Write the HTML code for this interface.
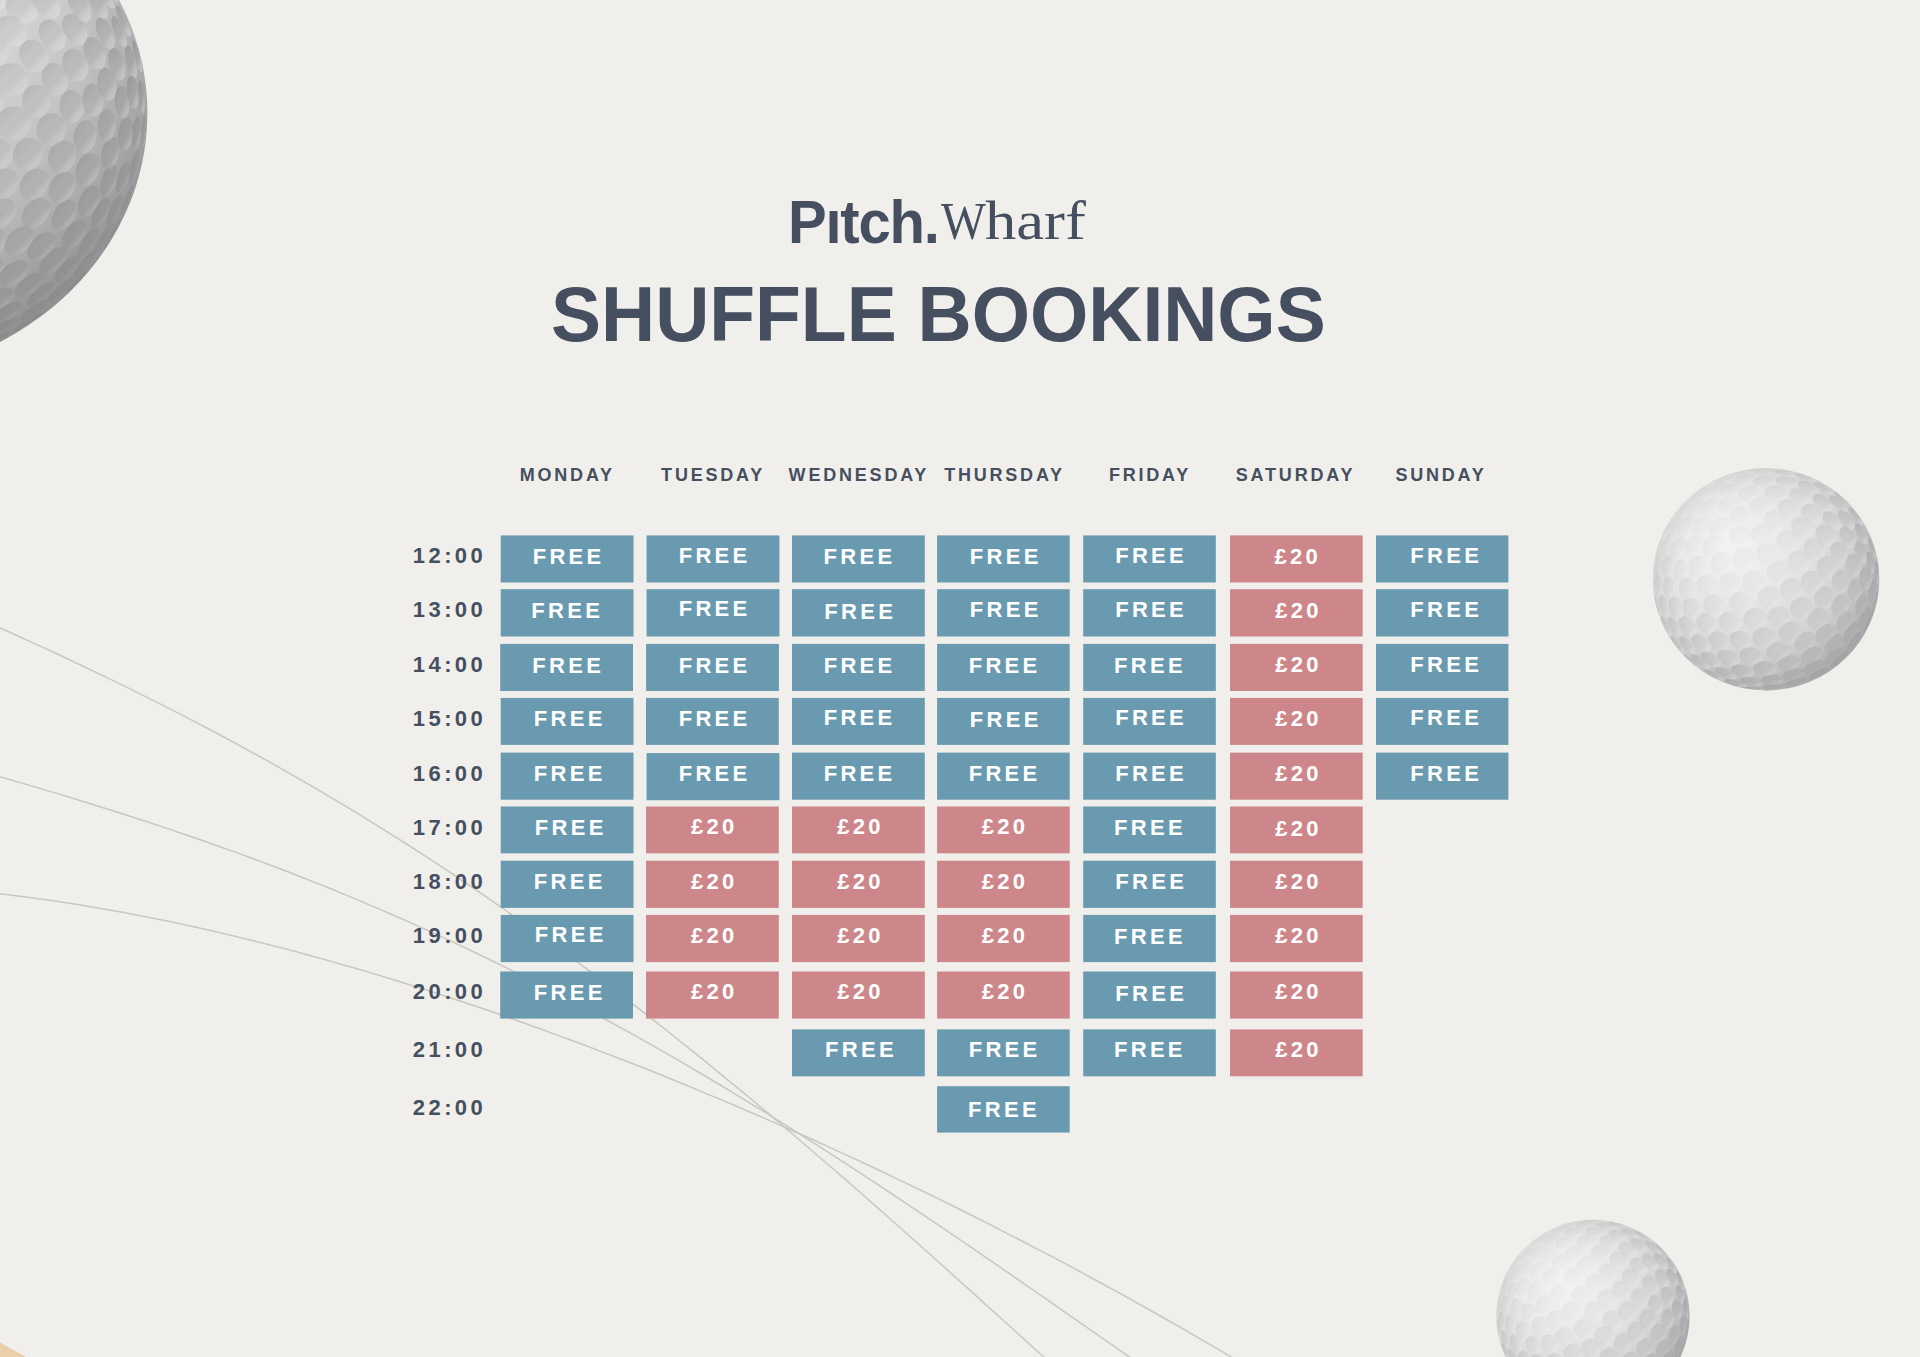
<!DOCTYPE html>
<html lang="en"><head><meta charset="utf-8"><title>Pitch. Wharf – Shuffle Bookings</title>
<style>
html,body{margin:0;padding:0}
body{width:1920px;height:1357px;position:relative;overflow:hidden;background:#f0efeb;font-family:"Liberation Sans",sans-serif;color:#454f60}
.abs{position:absolute}
.bx{position:absolute}
.b{background:#6a9ab0}.p{background:#cd878a}
.t{position:absolute;white-space:nowrap;line-height:1;font-weight:700;transform:translate(-50%,-50%)}
.c{color:#fff;font-size:22px;letter-spacing:3.3px}
.tm{font-size:22px;letter-spacing:3.4px}
.dy{font-size:18px;letter-spacing:2.8px}
#art{position:absolute;left:0;top:0}
#title{position:absolute;left:550.9px;top:274.5px;font-size:78.5px;font-weight:700;line-height:1;white-space:nowrap;letter-spacing:0px;transform-origin:0 0;transform:scaleX(0.955)}
#lg1{position:absolute;left:787.7px;top:192px;font-size:61px;font-weight:700;line-height:1;white-space:nowrap;letter-spacing:-1.3px;transform-origin:0 0;transform:scaleX(0.951)}
#lg2{position:absolute;left:0;top:0;font-family:"Liberation Serif",serif;line-height:1;white-space:nowrap}
#lg2 span{position:absolute;transform-origin:0 0}
#lgw{left:941px;top:196px;font-size:52px;transform:scaleX(0.914)}
#lgh{left:985.3px;top:193.7px;font-size:54px;transform:scaleX(1.16)}
</style></head><body>
<svg id="art" width="1920" height="1357" viewBox="0 0 1920 1357">
<defs>
<radialGradient id="bg" cx="-30" cy="-32" r="150" gradientUnits="userSpaceOnUse">
<stop offset="0" stop-color="#f3f3f1"/><stop offset=".3" stop-color="#eaeae9"/><stop offset=".5" stop-color="#dfdfde"/><stop offset=".68" stop-color="#d1d2d2"/><stop offset=".8" stop-color="#c1c3c3"/><stop offset=".9" stop-color="#b0b2b3"/><stop offset="1" stop-color="#a0a2a4"/>
</radialGradient>
<radialGradient id="rim" cx="0" cy="0" r="100" gradientUnits="userSpaceOnUse">
<stop offset=".8" stop-color="#9a9c9e" stop-opacity="0"/><stop offset="1" stop-color="#9a9c9e" stop-opacity=".12"/>
</radialGradient>
<linearGradient id="dg" x1="0.1" y1="0.1" x2="0.9" y2="0.9">
<stop offset="0" stop-color="#000" stop-opacity=".1"/><stop offset=".5" stop-color="#000" stop-opacity=".04"/><stop offset=".8" stop-color="#fff" stop-opacity=".1"/><stop offset="1" stop-color="#fff" stop-opacity=".3"/>
</linearGradient>
<linearGradient id="dg2" x1="0.1" y1="0.1" x2="0.9" y2="0.9">
<stop offset="0" stop-color="#000" stop-opacity=".13"/><stop offset=".45" stop-color="#000" stop-opacity=".05"/><stop offset=".75" stop-color="#fff" stop-opacity=".15"/><stop offset="1" stop-color="#fff" stop-opacity=".4"/>
</linearGradient>
<linearGradient id="sh" x1="45" y1="-45" x2="88" y2="80" gradientUnits="userSpaceOnUse">
<stop offset="0" stop-color="#000" stop-opacity=".02"/><stop offset="1" stop-color="#000" stop-opacity=".15"/>
</linearGradient>
</defs>
<path d="M0 1342.4 L26 1357 L0 1357Z" fill="#e9cfaa"/>
<g fill="none" stroke="#c7c7c4" stroke-width="1.5">
<path d="M-4 626.0 12 633.3 28 640.6 44 647.9 60 655.3 76 662.9 92 670.5 108 678.1 124 685.9 140 693.8 156 701.8 172 709.9 188 718.2 204 726.5 220 735.0 236 743.6 252 752.3 268 761.2 284 770.2 300 779.3 316 788.6 332 798.1 348 807.7 364 817.4 380 827.3 396 837.3 412 847.5 428 857.9 444 868.4 460 879.0 476 889.9 492 900.8 508 912.0 524 923.2 540 934.7 556 946.3 572 958.0 588 969.9 604 981.9 620 994.1 636 1006.4 652 1018.9 668 1031.5 684 1044.3 700 1057.1 716 1070.2 732 1083.3 748 1096.5 764 1109.9 780 1123.4 796 1137.0 812 1150.7 828 1164.5 844 1178.4 860 1192.3 876 1206.4 892 1220.5 908 1234.7 924 1249.0 940 1263.3 956 1277.7 972 1292.1 988 1306.6 1004 1321.0 1020 1335.5 1036 1350.0 1052 1364.5 1068 1379.0"/>
<path d="M-4 775.6 12 780.2 28 784.9 44 789.6 60 794.4 76 799.3 92 804.2 108 809.2 124 814.3 140 819.5 156 824.7 172 830.1 188 835.5 204 841.0 220 846.7 236 852.4 252 858.3 268 864.3 284 870.3 300 876.5 316 882.9 332 889.3 348 895.9 364 902.6 380 909.4 396 916.3 412 923.4 428 930.6 444 937.9 460 945.4 476 953.0 492 960.7 508 968.6 524 976.6 540 984.7 556 993.0 572 1001.4 588 1009.9 604 1018.5 620 1027.3 636 1036.2 652 1045.2 668 1054.4 684 1063.6 700 1073.0 716 1082.5 732 1092.1 748 1101.9 764 1111.7 780 1121.7 796 1131.7 812 1141.9 828 1152.1 844 1162.4 860 1172.9 876 1183.4 892 1194.0 908 1204.6 924 1215.3 940 1226.1 956 1237.0 972 1247.9 988 1258.9 1004 1269.9 1020 1280.9 1036 1292.0 1052 1303.1 1068 1314.3 1084 1325.4 1100 1336.5 1116 1347.7 1132 1358.8 1148 1370.0 1164 1381.1"/>
<path d="M-4 893.3 12 895.2 28 897.3 44 899.5 60 901.8 76 904.3 92 906.9 108 909.7 124 912.6 140 915.7 156 918.8 172 922.1 188 925.5 204 929.1 220 932.7 236 936.5 252 940.4 268 944.4 284 948.6 300 952.8 316 957.2 332 961.6 348 966.2 364 970.8 380 975.6 396 980.5 412 985.5 428 990.5 444 995.7 460 1001.0 476 1006.3 492 1011.8 508 1017.4 524 1023.0 540 1028.7 556 1034.6 572 1040.5 588 1046.5 604 1052.6 620 1058.7 636 1065.0 652 1071.3 668 1077.8 684 1084.3 700 1090.9 716 1097.6 732 1104.3 748 1111.2 764 1118.1 780 1125.1 796 1132.2 812 1139.3 828 1146.6 844 1153.9 860 1161.3 876 1168.8 892 1176.4 908 1184.1 924 1191.8 940 1199.6 956 1207.5 972 1215.5 988 1223.6 1004 1231.8 1020 1240.0 1036 1248.3 1052 1256.7 1068 1265.2 1084 1273.8 1100 1282.5 1116 1291.2 1132 1300.1 1148 1309.0 1164 1318.0 1180 1327.2 1196 1336.4 1212 1345.7 1228 1355.1 1244 1364.6 1260 1374.2"/>
</g>
<g transform="translate(-146.5 113.1) scale(2.9390 2.6390)"><circle r="100" fill="url(#bg)"/><g fill="url(#dg2)">
<path opacity="0.92" d="M41.0 63.0A6.2 4.1 142 1 0 50.8 55.4A6.2 4.1 142 1 0 41.0 63.0Z"/>
<path opacity="1.00" d="M43.8 74.2A6.2 3.2 145 1 0 53.9 67.1A6.2 3.2 145 1 0 43.8 74.2Z"/>
<path opacity="0.87" d="M41.8 53.0A6.2 4.6 136 1 0 50.7 44.5A6.2 4.6 136 1 0 41.8 53.0Z"/>
<path opacity="0.97" d="M49.8 65.0A6.2 3.6 138 1 0 59.0 56.7A6.2 3.6 138 1 0 49.8 65.0Z"/>
<path opacity="1.00" d="M47.0 79.1A6.2 2.4 145 1 0 57.2 72.1A6.2 2.4 145 1 0 47.0 79.1Z"/>
<path opacity="0.92" d="M52.4 53.1A6.2 4.1 131 1 0 60.5 43.7A6.2 4.1 131 1 0 52.4 53.1Z"/>
<path opacity="1.00" d="M55.2 69.3A6.2 2.9 137 1 0 64.4 61.0A6.2 2.9 137 1 0 55.2 69.3Z"/>
<path opacity="0.84" d="M46.2 42.9A6.2 4.8 127 1 0 53.7 33.0A6.2 4.8 127 1 0 46.2 42.9Z"/>
<path opacity="1.00" d="M45.5 84.5A6.2 1.7 148 1 0 56.0 77.9A6.2 1.7 148 1 0 45.5 84.5Z"/>
<path opacity="0.97" d="M60.1 55.4A6.2 3.6 128 1 0 67.8 45.7A6.2 3.6 128 1 0 60.1 55.4Z"/>
<path opacity="1.00" d="M59.3 72.5A6.2 2.2 137 1 0 68.4 64.0A6.2 2.2 137 1 0 59.3 72.5Z"/>
<path opacity="0.90" d="M58.8 43.2A6.2 4.2 121 1 0 65.3 32.6A6.2 4.2 121 1 0 58.8 43.2Z"/>
<path opacity="1.00" d="M42.5 89.0A6.2 1.0 151 1 0 53.3 83.0A6.2 1.0 151 1 0 42.5 89.0Z"/>
<path opacity="1.00" d="M63.9 60.7A6.2 2.9 130 1 0 71.8 51.2A6.2 2.9 130 1 0 63.9 60.7Z"/>
<path opacity="0.80" d="M47.9 32.4A6.2 5.1 118 1 0 53.7 21.4A6.2 5.1 118 1 0 47.9 32.4Z"/>
<path opacity="1.00" d="M56.6 78.7A6.2 1.5 141 1 0 66.2 70.8A6.2 1.5 141 1 0 56.6 78.7Z"/>
<path opacity="0.96" d="M68.8 44.0A6.2 3.6 118 1 0 74.6 33.0A6.2 3.6 118 1 0 68.8 44.0Z"/>
<path opacity="1.00" d="M68.8 63.7A6.2 2.2 129 1 0 76.6 54.1A6.2 2.2 129 1 0 68.8 63.7Z"/>
<path opacity="0.86" d="M59.0 32.7A6.2 4.6 114 1 0 64.0 21.3A6.2 4.6 114 1 0 59.0 32.7Z"/>
<path opacity="1.00" d="M54.0 83.1A6.2 0.8 143 1 0 64.0 75.7A6.2 0.8 143 1 0 54.0 83.1Z"/>
<path opacity="1.00" d="M71.8 51.2A6.2 2.9 121 1 0 78.3 40.7A6.2 2.9 121 1 0 71.8 51.2Z"/>
<path opacity="0.74" d="M46.6 21.5A6.2 5.3 108 1 0 50.3 9.7A6.2 5.3 108 1 0 46.6 21.5Z"/>
<path opacity="1.00" d="M66.3 71.5A6.2 1.4 133 1 0 74.9 62.5A6.2 1.4 133 1 0 66.3 71.5Z"/>
<path opacity="0.92" d="M68.7 33.9A6.2 4.0 112 1 0 73.3 22.4A6.2 4.0 112 1 0 68.7 33.9Z"/>
<path opacity="1.00" d="M76.6 54.2A6.2 2.1 121 1 0 83.1 43.6A6.2 2.1 121 1 0 76.6 54.2Z"/>
<path opacity="0.81" d="M57.9 21.5A6.2 4.9 105 1 0 61.0 9.5A6.2 4.9 105 1 0 57.9 21.5Z"/>
<path opacity="0.99" d="M77.8 39.0A6.2 3.1 113 1 0 82.6 27.6A6.2 3.1 113 1 0 77.8 39.0Z"/>
<path opacity="1.00" d="M75.1 62.2A6.2 1.4 126 1 0 82.4 52.2A6.2 1.4 126 1 0 75.1 62.2Z"/>
<path opacity="0.88" d="M69.5 22.6A6.2 4.2 103 1 0 72.3 10.6A6.2 4.2 103 1 0 69.5 22.6Z"/>
<path opacity="1.00" d="M81.6 43.5A6.2 2.4 114 1 0 86.7 32.2A6.2 2.4 114 1 0 81.6 43.5Z"/>
<path opacity="0.75" d="M54.2 9.9A6.2 5.2 94 1 0 55.0 -2.4A6.2 5.2 94 1 0 54.2 9.9Z"/>
<path opacity="1.00" d="M71.9 68.6A6.2 0.7 130 1 0 79.9 59.1A6.2 0.7 130 1 0 71.9 68.6Z"/>
<path opacity="0.95" d="M78.0 27.4A6.2 3.5 105 1 0 81.2 15.5A6.2 3.5 105 1 0 78.0 27.4Z"/>
<path opacity="1.00" d="M82.3 52.5A6.2 1.3 119 1 0 88.3 41.6A6.2 1.3 119 1 0 82.3 52.5Z"/>
<path opacity="0.83" d="M66.7 12.4A6.2 4.6 95 1 0 67.9 0.1A6.2 4.6 95 1 0 66.7 12.4Z"/>
<path opacity="1.00" d="M85.2 31.5A6.2 2.6 106 1 0 88.7 19.6A6.2 2.6 106 1 0 85.2 31.5Z"/>
<path opacity="0.67" d="M45.9 1.7A6.2 5.5 84 1 0 44.6 -10.6A6.2 5.5 84 1 0 45.9 1.7Z"/>
<path opacity="0.91" d="M78.1 15.1A6.2 3.8 96 1 0 79.5 2.7A6.2 3.8 96 1 0 78.1 15.1Z"/>
<path opacity="1.00" d="M86.6 42.3A6.2 1.7 112 1 0 91.3 30.8A6.2 1.7 112 1 0 86.6 42.3Z"/>
<path opacity="0.77" d="M62.6 1.7A6.2 4.8 86 1 0 61.7 -10.7A6.2 4.8 86 1 0 62.6 1.7Z"/>
<path opacity="0.98" d="M86.3 21.3A6.2 2.8 100 1 0 88.4 9.1A6.2 2.8 100 1 0 86.3 21.3Z"/>
<path opacity="1.00" d="M85.4 51.0A6.2 0.6 117 1 0 91.1 40.0A6.2 0.6 117 1 0 85.4 51.0Z"/>
<path opacity="0.86" d="M74.4 3.7A6.2 4.1 88 1 0 74.0 -8.7A6.2 4.1 88 1 0 74.4 3.7Z"/>
<path opacity="1.00" d="M90.2 30.2A6.2 1.9 105 1 0 93.4 18.2A6.2 1.9 105 1 0 90.2 30.2Z"/>
<path opacity="0.71" d="M55.1 -6.7A6.2 5.2 77 1 0 52.2 -18.7A6.2 5.2 77 1 0 55.1 -6.7Z"/>
<path opacity="0.95" d="M85.8 10.9A6.2 3.1 93 1 0 86.5 -1.5A6.2 3.1 93 1 0 85.8 10.9Z"/>
<path opacity="1.00" d="M90.8 39.2A6.2 0.9 110 1 0 95.0 27.5A6.2 0.9 110 1 0 90.8 39.2Z"/>
<path opacity="0.80" d="M69.6 -6.8A6.2 4.4 79 1 0 67.3 -19.0A6.2 4.4 79 1 0 69.6 -6.8Z"/>
<path opacity="0.99" d="M92.0 14.1A6.2 2.3 95 1 0 93.1 1.8A6.2 2.3 95 1 0 92.0 14.1Z"/>
<path opacity="0.65" d="M49.9 -17.9A6.2 5.3 64 1 0 44.4 -29.0A6.2 5.3 64 1 0 49.9 -17.9Z"/>
<path opacity="0.90" d="M81.9 1.2A6.2 3.6 87 1 0 81.1 -11.2A6.2 3.6 87 1 0 81.9 1.2Z"/>
<path opacity="1.00" d="M94.3 26.3A6.2 1.3 102 1 0 96.9 14.1A6.2 1.3 102 1 0 94.3 26.3Z"/>
<path opacity="0.75" d="M63.4 -15.9A6.2 4.7 70 1 0 59.3 -27.6A6.2 4.7 70 1 0 63.4 -15.9Z"/>
<path opacity="0.96" d="M91.7 2.1A6.2 2.5 87 1 0 91.1 -10.3A6.2 2.5 87 1 0 91.7 2.1Z"/>
<path opacity="0.84" d="M76.9 -12.2A6.2 3.9 76 1 0 74.0 -24.2A6.2 3.9 76 1 0 76.9 -12.2Z"/>
<path opacity="1.00" d="M95.8 13.9A6.2 1.6 95 1 0 96.8 1.5A6.2 1.6 95 1 0 95.8 13.9Z"/>
<path opacity="0.69" d="M56.8 -25.7A6.2 4.9 60 1 0 50.5 -36.4A6.2 4.9 60 1 0 56.8 -25.7Z"/>
<path opacity="0.92" d="M87.0 -4.8A6.2 3.0 83 1 0 85.5 -17.1A6.2 3.0 83 1 0 87.0 -4.8Z"/>
<path opacity="0.78" d="M70.1 -23.8A6.2 4.2 66 1 0 65.1 -35.2A6.2 4.2 66 1 0 70.1 -23.8Z"/>
<path opacity="0.98" d="M95.5 -1.7A6.2 1.8 85 1 0 94.5 -14.0A6.2 1.8 85 1 0 95.5 -1.7Z"/>
<path opacity="0.88" d="M83.7 -16.8A6.2 3.2 74 1 0 80.4 -28.7A6.2 3.2 74 1 0 83.7 -16.8Z"/>
<path opacity="1.00" d="M98.3 13.1A6.2 0.8 94 1 0 99.2 0.8A6.2 0.8 94 1 0 98.3 13.1Z"/>
<path opacity="0.72" d="M60.7 -34.8A6.2 4.4 55 1 0 53.7 -44.9A6.2 4.4 55 1 0 60.7 -34.8Z"/>
<path opacity="0.94" d="M90.9 -12.5A6.2 2.5 78 1 0 88.4 -24.6A6.2 2.5 78 1 0 90.9 -12.5Z"/>
<path opacity="0.84" d="M77.7 -25.9A6.2 3.6 67 1 0 72.9 -37.3A6.2 3.6 67 1 0 77.7 -25.9Z"/>
<path opacity="1.00" d="M98.4 -0.0A6.2 1.1 86 1 0 97.6 -12.4A6.2 1.1 86 1 0 98.4 -0.0Z"/>
<path opacity="0.65" d="M50.8 -39.5A6.2 4.8 47 1 0 42.3 -48.5A6.2 4.8 47 1 0 50.8 -39.5Z"/>
<path opacity="0.90" d="M87.7 -24.3A6.2 2.6 71 1 0 83.6 -36.0A6.2 2.6 71 1 0 87.7 -24.3Z"/>
<path opacity="0.77" d="M68.9 -36.2A6.2 3.9 58 1 0 62.3 -46.7A6.2 3.9 58 1 0 68.9 -36.2Z"/>
<path opacity="0.97" d="M95.7 -13.4A6.2 1.6 78 1 0 93.2 -25.6A6.2 1.6 78 1 0 95.7 -13.4Z"/>
<path opacity="0.85" d="M79.8 -34.8A6.2 3.1 62 1 0 74.0 -45.8A6.2 3.1 62 1 0 79.8 -34.8Z"/>
<path opacity="0.94" d="M92.4 -25.0A6.2 1.8 71 1 0 88.4 -36.8A6.2 1.8 71 1 0 92.4 -25.0Z"/>
<path opacity="0.79" d="M70.9 -44.7A6.2 3.4 54 1 0 63.5 -54.6A6.2 3.4 54 1 0 70.9 -44.7Z"/>
<path opacity="0.98" d="M97.9 -15.6A6.2 0.8 77 1 0 95.2 -27.6A6.2 0.8 77 1 0 97.9 -15.6Z"/>
<path opacity="0.89" d="M86.0 -35.8A6.2 2.3 64 1 0 80.4 -46.9A6.2 2.3 64 1 0 86.0 -35.8Z"/>
<path opacity="0.95" d="M94.1 -29.1A6.2 1.1 69 1 0 89.7 -40.6A6.2 1.1 69 1 0 94.1 -29.1Z"/>
<path opacity="0.91" d="M88.4 -39.7A6.2 1.5 62 1 0 82.6 -50.6A6.2 1.5 62 1 0 88.4 -39.7Z"/>
<path opacity="0.92" d="M90.0 -41.7A6.2 0.8 62 1 0 84.1 -52.6A6.2 0.8 62 1 0 90.0 -41.7Z"/>
</g><circle r="100" fill="url(#rim)"/><circle r="100" fill="url(#sh)"/></g>
<g transform="translate(1766 579.2) scale(1.1330 1.1120)"><circle r="100" fill="url(#bg)"/><g fill="url(#dg)">
<path opacity="0.62" d="M28.7 -85.1A10.2 4.5 12 1 0 8.8 -89.4A10.2 4.5 12 1 0 28.7 -85.1Z"/>
<path opacity="0.66" d="M27.1 -93.3A10.2 2.4 10 1 0 7.0 -96.8A10.2 2.4 10 1 0 27.1 -93.3Z"/>
<path opacity="0.55" d="M8.5 -88.3A10.2 4.7 179 1 0 -11.9 -87.9A10.2 4.7 179 1 0 8.5 -88.3Z"/>
<path opacity="0.70" d="M47.2 -78.4A10.2 4.1 25 1 0 28.7 -86.9A10.2 4.1 25 1 0 47.2 -78.4Z"/>
<path opacity="0.61" d="M9.4 -97.2A10.2 2.2 180 1 0 -10.9 -97.1A10.2 2.2 180 1 0 9.4 -97.2Z"/>
<path opacity="0.53" d="M18.9 -76.1A10.2 6.4 6 1 0 -1.3 -78.4A10.2 6.4 6 1 0 18.9 -76.1Z"/>
<path opacity="0.72" d="M44.6 -87.3A10.2 2.0 21 1 0 25.6 -94.6A10.2 2.0 21 1 0 44.6 -87.3Z"/>
<path opacity="0.53" d="M-8.7 -92.6A10.2 3.8 168 1 0 -28.6 -88.5A10.2 3.8 168 1 0 -8.7 -92.6Z"/>
<path opacity="0.63" d="M40.1 -70.6A10.2 6.0 22 1 0 21.3 -78.3A10.2 6.0 22 1 0 40.1 -70.6Z"/>
<path opacity="0.45" d="M-4.9 -78.9A10.2 6.3 169 1 0 -24.9 -75.0A10.2 6.3 169 1 0 -4.9 -78.9Z"/>
<path opacity="0.77" d="M59.8 -76.0A10.2 2.6 32 1 0 42.5 -86.8A10.2 2.6 32 1 0 59.8 -76.0Z"/>
<path opacity="0.57" d="M-8.6 -98.4A10.2 1.6 169 1 0 -28.6 -94.5A10.2 1.6 169 1 0 -8.6 -98.4Z"/>
<path opacity="0.53" d="M30.1 -60.7A10.2 7.5 18 1 0 10.7 -66.9A10.2 7.5 18 1 0 30.1 -60.7Z"/>
<path opacity="0.46" d="M-21.5 -84.3A10.2 5.1 159 1 0 -40.5 -76.9A10.2 5.1 159 1 0 -21.5 -84.3Z"/>
<path opacity="0.72" d="M58.5 -63.0A10.2 5.2 36 1 0 42.1 -75.0A10.2 5.2 36 1 0 58.5 -63.0Z"/>
<path opacity="0.42" d="M5.6 -66.7A10.2 7.6 176 1 0 -14.8 -65.3A10.2 7.6 176 1 0 5.6 -66.7Z"/>
<path opacity="0.52" d="M-26.2 -94.1A10.2 2.2 158 1 0 -45.2 -86.6A10.2 2.2 158 1 0 -26.2 -94.1Z"/>
<path opacity="0.64" d="M49.1 -53.3A10.2 7.1 35 1 0 32.4 -64.8A10.2 7.1 35 1 0 49.1 -53.3Z"/>
<path opacity="0.37" d="M-23.9 -71.4A10.2 6.7 154 1 0 -42.2 -62.3A10.2 6.7 154 1 0 -23.9 -71.4Z"/>
<path opacity="0.80" d="M71.4 -60.7A10.2 3.6 43 1 0 56.7 -74.7A10.2 3.6 43 1 0 71.4 -60.7Z"/>
<path opacity="0.42" d="M18.1 -51.5A10.2 8.6 9 1 0 -2.0 -54.6A10.2 8.6 9 1 0 18.1 -51.5Z"/>
<path opacity="0.47" d="M-35.9 -85.9A10.2 3.7 151 1 0 -53.7 -76.0A10.2 3.7 151 1 0 -35.9 -85.9Z"/>
<path opacity="0.74" d="M65.0 -44.8A10.2 6.3 48 1 0 51.4 -60.0A10.2 6.3 48 1 0 65.0 -44.8Z"/>
<path opacity="0.35" d="M-12.9 -60.0A10.2 8.1 158 1 0 -31.8 -52.5A10.2 8.1 158 1 0 -12.9 -60.0Z"/>
<path opacity="0.84" d="M75.2 -64.3A10.2 1.5 44 1 0 60.4 -78.3A10.2 1.5 44 1 0 75.2 -64.3Z"/>
<path opacity="0.56" d="M40.5 -40.6A10.2 8.4 35 1 0 23.8 -52.2A10.2 8.4 35 1 0 40.5 -40.6Z"/>
<path opacity="0.39" d="M-41.3 -71.6A10.2 5.8 143 1 0 -57.5 -59.3A10.2 5.8 143 1 0 -41.3 -71.6Z"/>
<path opacity="0.82" d="M77.0 -45.3A10.2 4.6 53 1 0 64.7 -61.5A10.2 4.6 53 1 0 77.0 -45.3Z"/>
<path opacity="0.35" d="M6.8 -41.1A10.2 9.3 175 1 0 -13.5 -39.5A10.2 9.3 175 1 0 6.8 -41.1Z"/>
<path opacity="0.49" d="M-51.0 -82.5A10.2 2.5 142 1 0 -67.1 -70.1A10.2 2.5 142 1 0 -51.0 -82.5Z"/>
<path opacity="0.69" d="M59.0 -31.2A10.2 7.6 53 1 0 46.9 -47.5A10.2 7.6 53 1 0 59.0 -31.2Z"/>
<path opacity="0.35" d="M-32.5 -52.9A10.2 8.0 139 1 0 -47.9 -39.6A10.2 8.0 139 1 0 -32.5 -52.9Z"/>
<path opacity="0.88" d="M85.1 -48.5A10.2 2.1 54 1 0 73.2 -65.1A10.2 2.1 54 1 0 85.1 -48.5Z"/>
<path opacity="0.46" d="M28.2 -29.2A10.2 9.4 29 1 0 10.5 -39.3A10.2 9.4 29 1 0 28.2 -29.2Z"/>
<path opacity="0.44" d="M-54.8 -72.3A10.2 4.3 136 1 0 -69.6 -58.2A10.2 4.3 136 1 0 -54.8 -72.3Z"/>
<path opacity="0.82" d="M77.1 -28.4A10.2 5.8 63 1 0 67.8 -46.4A10.2 5.8 63 1 0 77.1 -28.4Z"/>
<path opacity="0.35" d="M-13.6 -43.4A10.2 9.1 150 1 0 -31.2 -33.2A10.2 9.1 150 1 0 -13.6 -43.4Z"/>
<path opacity="0.62" d="M48.2 -18.6A10.2 8.8 58 1 0 37.3 -35.8A10.2 8.8 58 1 0 48.2 -18.6Z"/>
<path opacity="0.35" d="M-49.8 -55.9A10.2 6.8 130 1 0 -63.0 -40.4A10.2 6.8 130 1 0 -49.8 -55.9Z"/>
<path opacity="0.90" d="M88.6 -31.7A10.2 3.5 64 1 0 79.7 -50.0A10.2 3.5 64 1 0 88.6 -31.7Z"/>
<path opacity="0.35" d="M11.6 -21.6A10.2 9.9 4 1 0 -8.7 -23.0A10.2 9.9 4 1 0 11.6 -21.6Z"/>
<path opacity="0.49" d="M-67.3 -69.4A10.2 2.6 130 1 0 -80.4 -53.7A10.2 2.6 130 1 0 -67.3 -69.4Z"/>
<path opacity="0.77" d="M68.2 -14.3A10.2 7.3 70 1 0 61.1 -33.4A10.2 7.3 70 1 0 68.2 -14.3Z"/>
<path opacity="0.35" d="M-42.0 -37.5A10.2 8.5 121 1 0 -52.6 -20.1A10.2 8.5 121 1 0 -42.0 -37.5Z"/>
<path opacity="0.54" d="M33.9 -6.8A10.2 9.6 62 1 0 24.2 -24.7A10.2 9.6 62 1 0 33.9 -6.8Z"/>
<path opacity="0.42" d="M-64.5 -56.7A10.2 5.2 125 1 0 -76.0 -40.0A10.2 5.2 125 1 0 -64.5 -56.7Z"/>
<path opacity="0.89" d="M86.5 -14.9A10.2 4.9 74 1 0 80.7 -34.4A10.2 4.9 74 1 0 86.5 -14.9Z"/>
<path opacity="0.35" d="M-12.5 -25.5A10.2 9.8 133 1 0 -26.3 -10.5A10.2 9.8 133 1 0 -12.5 -25.5Z"/>
<path opacity="0.71" d="M55.8 -0.5A10.2 8.5 79 1 0 52.0 -20.5A10.2 8.5 79 1 0 55.8 -0.5Z"/>
<path opacity="0.36" d="M-59.7 -38.9A10.2 7.2 115 1 0 -68.3 -20.4A10.2 7.2 115 1 0 -59.7 -38.9Z"/>
<path opacity="0.96" d="M96.6 -18.0A10.2 1.9 73 1 0 90.8 -37.6A10.2 1.9 73 1 0 96.6 -18.0Z"/>
<path opacity="0.46" d="M16.4 2.4A10.2 10.1 60 1 0 6.3 -15.3A10.2 10.1 60 1 0 16.4 2.4Z"/>
<path opacity="0.49" d="M-76.1 -55.3A10.2 3.5 120 1 0 -86.2 -37.6A10.2 3.5 120 1 0 -76.1 -55.3Z"/>
<path opacity="0.86" d="M78.3 -2.3A10.2 6.4 81 1 0 75.1 -22.4A10.2 6.4 81 1 0 78.3 -2.3Z"/>
<path opacity="0.35" d="M-35.4 -23.6A10.2 9.3 110 1 0 -42.4 -4.5A10.2 9.3 110 1 0 -35.4 -23.6Z"/>
<path opacity="0.66" d="M40.2 12.6A10.2 9.3 93 1 0 41.4 -7.7A10.2 9.3 93 1 0 40.2 12.6Z"/>
<path opacity="0.45" d="M-74.1 -37.9A10.2 5.7 110 1 0 -81.0 -18.8A10.2 5.7 110 1 0 -74.1 -37.9Z"/>
<path opacity="0.96" d="M93.9 -4.6A10.2 3.5 81 1 0 90.7 -24.7A10.2 3.5 81 1 0 93.9 -4.6Z"/>
<path opacity="0.40" d="M-13.2 -7.3A10.2 10.1 76 1 0 -8.3 12.5A10.2 10.1 76 1 0 -13.2 -7.3Z"/>
<path opacity="0.53" d="M-81.8 -56.4A10.2 1.2 119 1 0 -91.6 -38.5A10.2 1.2 119 1 0 -81.8 -56.4Z"/>
<path opacity="0.81" d="M66.1 11.9A10.2 7.6 92 1 0 66.6 -8.4A10.2 7.6 92 1 0 66.1 11.9Z"/>
<path opacity="0.38" d="M-57.9 -20.9A10.2 8.1 100 1 0 -61.6 -0.9A10.2 8.1 100 1 0 -57.9 -20.9Z"/>
<path opacity="0.58" d="M19.0 18.7A10.2 9.9 112 1 0 26.6 -0.2A10.2 9.9 112 1 0 19.0 18.7Z"/>
<path opacity="0.52" d="M-85.1 -39.5A10.2 3.5 109 1 0 -91.6 -20.2A10.2 3.5 109 1 0 -85.1 -39.5Z"/>
<path opacity="0.95" d="M87.9 9.7A10.2 4.8 90 1 0 87.8 -10.6A10.2 4.8 90 1 0 87.9 9.7Z"/>
<path opacity="0.37" d="M-32.7 -6.6A10.2 9.6 84 1 0 -30.4 13.7A10.2 9.6 84 1 0 -32.7 -6.6Z"/>
<path opacity="0.77" d="M48.7 26.3A10.2 8.5 108 1 0 54.9 6.9A10.2 8.5 108 1 0 48.7 26.3Z"/>
<path opacity="0.48" d="M-74.3 -18.1A10.2 6.6 96 1 0 -76.5 2.2A10.2 6.6 96 1 0 -74.3 -18.1Z"/>
<path opacity="1.00" d="M98.3 4.4A10.2 1.8 87 1 0 97.1 -15.9A10.2 1.8 87 1 0 98.3 4.4Z"/>
<path opacity="0.52" d="M-6.5 18.4A10.2 10.0 168 1 0 13.4 14.1A10.2 10.0 168 1 0 -6.5 18.4Z"/>
<path opacity="0.57" d="M-91.8 -37.5A10.2 1.3 106 1 0 -97.5 -17.9A10.2 1.3 106 1 0 -91.8 -37.5Z"/>
<path opacity="0.91" d="M77.1 19.9A10.2 6.2 97 1 0 79.6 -0.3A10.2 6.2 97 1 0 77.1 19.9Z"/>
<path opacity="0.43" d="M-53.3 -3.8A10.2 8.7 83 1 0 -50.9 16.4A10.2 8.7 83 1 0 -53.3 -3.8Z"/>
<path opacity="0.70" d="M25.1 33.9A10.2 9.3 130 1 0 38.0 18.2A10.2 9.3 130 1 0 25.1 33.9Z"/>
<path opacity="0.54" d="M-85.5 -21.6A10.2 4.8 98 1 0 -88.1 -1.5A10.2 4.8 98 1 0 -85.5 -21.6Z"/>
<path opacity="1.00" d="M93.0 21.1A10.2 3.1 97 1 0 95.4 0.9A10.2 3.1 97 1 0 93.0 21.1Z"/>
<path opacity="0.49" d="M-29.7 13.8A10.2 9.7 47 1 0 -15.7 28.7A10.2 9.7 47 1 0 -29.7 13.8Z"/>
<path opacity="0.87" d="M62.0 33.1A10.2 7.3 110 1 0 68.8 13.9A10.2 7.3 110 1 0 62.0 33.1Z"/>
<path opacity="0.51" d="M-70.5 -1.3A10.2 7.3 83 1 0 -67.9 18.9A10.2 7.3 83 1 0 -70.5 -1.3Z"/>
<path opacity="0.65" d="M1.9 37.1A10.2 9.5 161 1 0 21.2 30.5A10.2 9.5 161 1 0 1.9 37.1Z"/>
<path opacity="0.59" d="M-93.8 -22.6A10.2 2.7 98 1 0 -96.4 -2.4A10.2 2.7 98 1 0 -93.8 -22.6Z"/>
<path opacity="0.98" d="M81.5 32.6A10.2 4.9 105 1 0 86.8 12.9A10.2 4.9 105 1 0 81.5 32.6Z"/>
<path opacity="0.52" d="M-50.3 14.7A10.2 8.7 62 1 0 -40.9 32.8A10.2 8.7 62 1 0 -50.3 14.7Z"/>
<path opacity="0.81" d="M39.4 43.8A10.2 8.3 128 1 0 52.0 27.8A10.2 8.3 128 1 0 39.4 43.8Z"/>
<path opacity="0.59" d="M-86.6 -2.3A10.2 5.1 85 1 0 -84.7 18.0A10.2 5.1 85 1 0 -86.6 -2.3Z"/>
<path opacity="1.00" d="M94.4 29.9A10.2 1.4 102 1 0 98.6 10.0A10.2 1.4 102 1 0 94.4 29.9Z"/>
<path opacity="0.61" d="M-19.6 33.5A10.2 9.4 15 1 0 0.0 38.8A10.2 9.4 15 1 0 -19.6 33.5Z"/>
<path opacity="0.94" d="M64.4 46.7A10.2 6.2 119 1 0 74.2 28.8A10.2 6.2 119 1 0 64.4 46.7Z"/>
<path opacity="0.59" d="M-69.4 17.2A10.2 7.2 68 1 0 -61.8 36.1A10.2 7.2 68 1 0 -69.4 17.2Z"/>
<path opacity="0.77" d="M12.2 52.0A10.2 8.7 156 1 0 30.7 43.6A10.2 8.7 156 1 0 12.2 52.0Z"/>
<path opacity="0.64" d="M-95.6 -4.2A10.2 3.0 86 1 0 -94.4 16.1A10.2 3.0 86 1 0 -95.6 -4.2Z"/>
<path opacity="1.00" d="M83.2 43.8A10.2 3.5 112 1 0 90.7 24.9A10.2 3.5 112 1 0 83.2 43.8Z"/>
<path opacity="0.60" d="M-39.7 32.3A10.2 8.8 39 1 0 -23.9 45.2A10.2 8.8 39 1 0 -39.7 32.3Z"/>
<path opacity="0.90" d="M45.5 56.6A10.2 7.0 133 1 0 59.4 41.7A10.2 7.0 133 1 0 45.5 56.6Z"/>
<path opacity="0.64" d="M-82.7 15.9A10.2 5.5 72 1 0 -76.5 35.3A10.2 5.5 72 1 0 -82.7 15.9Z"/>
<path opacity="0.73" d="M-11.8 52.3A10.2 8.6 2 1 0 8.5 52.9A10.2 8.6 2 1 0 -11.8 52.3Z"/>
<path opacity="1.00" d="M70.0 55.9A10.2 4.6 122 1 0 80.8 38.6A10.2 4.6 122 1 0 70.0 55.9Z"/>
<path opacity="0.64" d="M-58.5 31.9A10.2 7.6 53 1 0 -46.2 48.1A10.2 7.6 53 1 0 -58.5 31.9Z"/>
<path opacity="0.86" d="M26.0 61.1A10.2 7.7 148 1 0 43.3 50.3A10.2 7.7 148 1 0 26.0 61.1Z"/>
<path opacity="0.68" d="M-92.7 14.6A10.2 3.5 75 1 0 -87.3 34.2A10.2 3.5 75 1 0 -92.7 14.6Z"/>
<path opacity="1.00" d="M86.4 47.6A10.2 1.7 113 1 0 94.4 28.8A10.2 1.7 113 1 0 86.4 47.6Z"/>
<path opacity="0.71" d="M-31.8 51.0A10.2 8.2 22 1 0 -12.9 58.7A10.2 8.2 22 1 0 -31.8 51.0Z"/>
<path opacity="0.98" d="M53.1 65.1A10.2 5.6 134 1 0 67.2 50.4A10.2 5.6 134 1 0 53.1 65.1Z"/>
<path opacity="0.70" d="M-74.5 34.2A10.2 5.9 58 1 0 -63.8 51.5A10.2 5.9 58 1 0 -74.5 34.2Z"/>
<path opacity="0.83" d="M0.5 66.3A10.2 7.7 171 1 0 20.6 63.0A10.2 7.7 171 1 0 0.5 66.3Z"/>
<path opacity="0.71" d="M-97.9 15.3A10.2 1.4 75 1 0 -92.7 35.0A10.2 1.4 75 1 0 -97.9 15.3Z"/>
<path opacity="1.00" d="M72.1 63.8A10.2 2.8 125 1 0 83.9 47.2A10.2 2.8 125 1 0 72.1 63.8Z"/>
<path opacity="0.72" d="M-49.6 49.7A10.2 7.3 37 1 0 -33.3 61.8A10.2 7.3 37 1 0 -49.6 49.7Z"/>
<path opacity="0.95" d="M31.4 73.4A10.2 6.2 150 1 0 49.0 63.1A10.2 6.2 150 1 0 31.4 73.4Z"/>
<path opacity="0.74" d="M-85.7 34.2A10.2 3.9 62 1 0 -76.1 52.2A10.2 3.9 62 1 0 -85.7 34.2Z"/>
<path opacity="0.82" d="M-23.1 67.3A10.2 7.2 11 1 0 -3.1 71.0A10.2 7.2 11 1 0 -23.1 67.3Z"/>
<path opacity="1.00" d="M51.8 75.5A10.2 4.1 139 1 0 67.2 62.1A10.2 4.1 139 1 0 51.8 75.5Z"/>
<path opacity="0.76" d="M-64.4 50.5A10.2 5.9 45 1 0 -49.9 64.9A10.2 5.9 45 1 0 -64.4 50.5Z"/>
<path opacity="0.92" d="M10.1 78.0A10.2 6.3 165 1 0 29.8 72.8A10.2 6.3 165 1 0 10.1 78.0Z"/>
<path opacity="0.76" d="M-92.4 33.2A10.2 1.9 64 1 0 -83.6 51.6A10.2 1.9 64 1 0 -92.4 33.2Z"/>
<path opacity="0.82" d="M-42.4 66.4A10.2 6.3 25 1 0 -24.0 75.1A10.2 6.3 25 1 0 -42.4 66.4Z"/>
<path opacity="1.00" d="M33.5 83.7A10.2 4.4 152 1 0 51.4 74.1A10.2 4.4 152 1 0 33.5 83.7Z"/>
<path opacity="0.80" d="M-76.0 51.8A10.2 4.0 49 1 0 -62.7 67.3A10.2 4.0 49 1 0 -76.0 51.8Z"/>
<path opacity="0.91" d="M-11.1 80.0A10.2 6.0 1 1 0 9.2 80.3A10.2 6.0 1 1 0 -11.1 80.0Z"/>
<path opacity="1.00" d="M56.9 79.0A10.2 2.3 138 1 0 72.1 65.5A10.2 2.3 138 1 0 56.9 79.0Z"/>
<path opacity="0.84" d="M-57.0 66.6A10.2 4.9 34 1 0 -40.1 78.0A10.2 4.9 34 1 0 -57.0 66.6Z"/>
<path opacity="1.00" d="M14.5 88.1A10.2 4.6 164 1 0 34.1 82.6A10.2 4.6 164 1 0 14.5 88.1Z"/>
<path opacity="0.82" d="M-84.1 51.3A10.2 1.8 53 1 0 -71.8 67.5A10.2 1.8 53 1 0 -84.1 51.3Z"/>
<path opacity="0.90" d="M-30.5 80.0A10.2 5.3 14 1 0 -10.7 84.9A10.2 5.3 14 1 0 -30.5 80.0Z"/>
<path opacity="1.00" d="M37.6 89.4A10.2 2.5 151 1 0 55.4 79.5A10.2 2.5 151 1 0 37.6 89.4Z"/>
<path opacity="0.87" d="M-66.1 68.2A10.2 3.2 38 1 0 -50.0 80.7A10.2 3.2 38 1 0 -66.1 68.2Z"/>
<path opacity="0.98" d="M-4.6 91.0A10.2 4.2 176 1 0 15.7 89.8A10.2 4.2 176 1 0 -4.6 91.0Z"/>
<path opacity="0.91" d="M-45.0 80.7A10.2 3.9 23 1 0 -26.2 88.6A10.2 3.9 23 1 0 -45.0 80.7Z"/>
<path opacity="1.00" d="M16.4 95.3A10.2 2.6 164 1 0 36.0 89.7A10.2 2.6 164 1 0 16.4 95.3Z"/>
<path opacity="0.88" d="M-72.9 67.1A10.2 1.4 41 1 0 -57.7 80.6A10.2 1.4 41 1 0 -72.9 67.1Z"/>
<path opacity="0.97" d="M-22.6 90.8A10.2 3.6 8 1 0 -2.4 93.5A10.2 3.6 8 1 0 -22.6 90.8Z"/>
<path opacity="0.93" d="M-54.5 81.4A10.2 2.0 28 1 0 -36.5 91.0A10.2 2.0 28 1 0 -54.5 81.4Z"/>
<path opacity="1.00" d="M-2.9 97.9A10.2 2.1 176 1 0 17.4 96.4A10.2 2.1 176 1 0 -2.9 97.9Z"/>
<path opacity="0.97" d="M-36.3 90.7A10.2 2.2 16 1 0 -16.8 96.2A10.2 2.2 16 1 0 -36.3 90.7Z"/>
<path opacity="1.00" d="M-20.8 97.2A10.2 1.1 6 1 0 -0.6 99.4A10.2 1.1 6 1 0 -20.8 97.2Z"/>
</g><circle r="100" fill="url(#rim)"/></g>
<g transform="translate(1593 1316) scale(0.9660 0.9630)"><circle r="100" fill="url(#bg)"/><g fill="url(#dg)">
<path opacity="0.63" d="M-95.2 -4.3A10.2 3.1 86 1 0 -94.0 16.0A10.2 3.1 86 1 0 -95.2 -4.3Z"/>
<path opacity="0.60" d="M-96.0 -23.0A10.2 1.6 98 1 0 -98.7 -2.8A10.2 1.6 98 1 0 -96.0 -23.0Z"/>
<path opacity="0.68" d="M-99.2 3.7A10.2 1.3 82 1 0 -96.3 23.8A10.2 1.3 82 1 0 -99.2 3.7Z"/>
<path opacity="0.57" d="M-90.6 -21.0A10.2 3.8 97 1 0 -92.9 -0.8A10.2 3.8 97 1 0 -90.6 -21.0Z"/>
<path opacity="0.69" d="M-93.8 14.8A10.2 3.2 75 1 0 -88.5 34.5A10.2 3.2 75 1 0 -93.8 14.8Z"/>
<path opacity="0.54" d="M-88.2 -38.5A10.2 2.8 107 1 0 -94.4 -19.1A10.2 2.8 107 1 0 -88.2 -38.5Z"/>
<path opacity="0.59" d="M-86.9 -1.4A10.2 5.1 84 1 0 -84.8 18.9A10.2 5.1 84 1 0 -86.9 -1.4Z"/>
<path opacity="0.75" d="M-94.2 28.8A10.2 1.8 67 1 0 -86.3 47.5A10.2 1.8 67 1 0 -94.2 28.8Z"/>
<path opacity="0.49" d="M-80.8 -35.0A10.2 4.9 107 1 0 -86.7 -15.5A10.2 4.9 107 1 0 -80.8 -35.0Z"/>
<path opacity="0.66" d="M-83.6 19.3A10.2 5.3 70 1 0 -76.7 38.5A10.2 5.3 70 1 0 -83.6 19.3Z"/>
<path opacity="0.54" d="M-86.1 -49.4A10.2 1.2 114 1 0 -94.4 -30.8A10.2 1.2 114 1 0 -86.1 -49.4Z"/>
<path opacity="0.50" d="M-78.4 -18.0A10.2 6.1 96 1 0 -80.4 2.2A10.2 6.1 96 1 0 -78.4 -18.0Z"/>
<path opacity="0.75" d="M-86.9 35.0A10.2 3.6 62 1 0 -77.3 53.0A10.2 3.6 62 1 0 -86.9 35.0Z"/>
<path opacity="0.49" d="M-76.6 -53.1A10.2 3.7 118 1 0 -86.3 -35.2A10.2 3.7 118 1 0 -76.6 -53.1Z"/>
<path opacity="0.56" d="M-74.8 5.5A10.2 6.8 78 1 0 -70.5 25.4A10.2 6.8 78 1 0 -74.8 5.5Z"/>
<path opacity="0.42" d="M-68.4 -38.7A10.2 6.3 112 1 0 -76.0 -19.9A10.2 6.3 112 1 0 -68.4 -38.7Z"/>
<path opacity="0.71" d="M-75.4 37.0A10.2 5.6 57 1 0 -64.3 54.1A10.2 5.6 57 1 0 -75.4 37.0Z"/>
<path opacity="0.50" d="M-74.0 -64.4A10.2 2.0 125 1 0 -85.7 -47.7A10.2 2.0 125 1 0 -74.0 -64.4Z"/>
<path opacity="0.45" d="M-66.4 -13.3A10.2 7.5 93 1 0 -67.3 7.0A10.2 7.5 93 1 0 -66.4 -13.3Z"/>
<path opacity="0.42" d="M-64.0 -57.0A10.2 5.3 125 1 0 -75.7 -40.3A10.2 5.3 125 1 0 -64.0 -57.0Z"/>
<path opacity="0.60" d="M-66.4 21.4A10.2 7.3 64 1 0 -57.4 39.7A10.2 7.3 64 1 0 -66.4 21.4Z"/>
<path opacity="0.35" d="M-55.5 -35.1A10.2 7.7 113 1 0 -63.6 -16.4A10.2 7.7 113 1 0 -55.5 -35.1Z"/>
<path opacity="0.47" d="M-61.0 -72.3A10.2 3.3 134 1 0 -75.1 -57.6A10.2 3.3 134 1 0 -61.0 -72.3Z"/>
<path opacity="0.46" d="M-56.8 0.5A10.2 8.4 79 1 0 -52.9 20.5A10.2 8.4 79 1 0 -56.8 0.5Z"/>
<path opacity="0.35" d="M-50.5 -54.3A10.2 6.9 129 1 0 -63.3 -38.6A10.2 6.9 129 1 0 -50.5 -54.3Z"/>
<path opacity="0.70" d="M-62.4 40.8A10.2 6.8 49 1 0 -49.0 56.1A10.2 6.8 49 1 0 -62.4 40.8Z"/>
<path opacity="0.35" d="M-47.7 -21.8A10.2 8.7 103 1 0 -52.4 -2.0A10.2 8.7 103 1 0 -47.7 -21.8Z"/>
<path opacity="0.42" d="M-49.3 -73.0A10.2 4.9 139 1 0 -64.7 -59.7A10.2 4.9 139 1 0 -49.3 -73.0Z"/>
<path opacity="0.55" d="M-50.8 20.5A10.2 8.6 57 1 0 -39.8 37.7A10.2 8.6 57 1 0 -50.8 20.5Z"/>
<path opacity="0.35" d="M-36.2 -46.7A10.2 8.3 132 1 0 -49.9 -31.7A10.2 8.3 132 1 0 -36.2 -46.7Z"/>
<path opacity="0.49" d="M-45.7 -85.2A10.2 2.6 146 1 0 -62.6 -73.8A10.2 2.6 146 1 0 -45.7 -85.2Z"/>
<path opacity="0.38" d="M-39.4 -5.7A10.2 9.4 83 1 0 -37.0 14.5A10.2 9.4 83 1 0 -39.4 -5.7Z"/>
<path opacity="0.36" d="M-37.6 -68.7A10.2 6.4 144 1 0 -54.1 -56.7A10.2 6.4 144 1 0 -37.6 -68.7Z"/>
<path opacity="0.67" d="M-46.4 41.8A10.2 8.0 39 1 0 -30.5 54.5A10.2 8.0 39 1 0 -46.4 41.8Z"/>
<path opacity="0.35" d="M-28.7 -31.9A10.2 9.2 124 1 0 -40.2 -15.1A10.2 9.2 124 1 0 -28.7 -31.9Z"/>
<path opacity="0.46" d="M-33.4 -84.5A10.2 4.3 152 1 0 -51.4 -75.0A10.2 4.3 152 1 0 -33.4 -84.5Z"/>
<path opacity="0.49" d="M-34.8 13.4A10.2 9.5 53 1 0 -22.6 29.7A10.2 9.5 53 1 0 -34.8 13.4Z"/>
<path opacity="0.35" d="M-24.2 -60.5A10.2 7.8 149 1 0 -41.7 -50.1A10.2 7.8 149 1 0 -24.2 -60.5Z"/>
<path opacity="0.35" d="M-20.1 -14.7A10.2 9.9 102 1 0 -24.3 5.3A10.2 9.9 102 1 0 -20.1 -14.7Z"/>
<path opacity="0.43" d="M-20.0 -79.6A10.2 5.8 159 1 0 -39.0 -72.3A10.2 5.8 159 1 0 -20.0 -79.6Z"/>
<path opacity="0.61" d="M-29.5 33.8A10.2 9.1 28 1 0 -11.5 43.3A10.2 9.1 28 1 0 -29.5 33.8Z"/>
<path opacity="0.35" d="M-11.0 -44.5A10.2 9.1 153 1 0 -29.2 -35.3A10.2 9.1 153 1 0 -11.0 -44.5Z"/>
<path opacity="0.52" d="M-22.5 -93.6A10.2 2.8 160 1 0 -41.7 -86.8A10.2 2.8 160 1 0 -22.5 -93.6Z"/>
<path opacity="0.47" d="M-17.8 7.5A10.2 10.0 35 1 0 -1.2 19.3A10.2 10.0 35 1 0 -17.8 7.5Z"/>
<path opacity="0.37" d="M-8.2 -68.5A10.2 7.4 165 1 0 -27.8 -63.1A10.2 7.4 165 1 0 -8.2 -68.5Z"/>
<path opacity="0.35" d="M-3.3 -26.5A10.2 9.9 150 1 0 -21.0 -16.4A10.2 9.9 150 1 0 -3.3 -26.5Z"/>
<path opacity="0.51" d="M-9.1 -89.8A10.2 4.4 168 1 0 -29.0 -85.5A10.2 4.4 168 1 0 -9.1 -89.8Z"/>
<path opacity="0.61" d="M-12.2 33.1A10.2 9.6 3 1 0 8.1 34.3A10.2 9.6 3 1 0 -12.2 33.1Z"/>
<path opacity="0.35" d="M4.2 -54.8A10.2 8.6 174 1 0 -16.1 -52.6A10.2 8.6 174 1 0 4.2 -54.8Z"/>
<path opacity="0.56" d="M-14.1 -98.5A10.2 1.1 166 1 0 -33.9 -93.5A10.2 1.1 166 1 0 -14.1 -98.5Z"/>
<path opacity="0.41" d="M10.7 -2.9A10.2 10.2 8 1 0 -9.5 -5.7A10.2 10.2 8 1 0 10.7 -2.9Z"/>
<path opacity="0.47" d="M3.1 -78.2A10.2 6.4 175 1 0 -17.2 -76.3A10.2 6.4 175 1 0 3.1 -78.2Z"/>
<path opacity="0.35" d="M12.3 -33.8A10.2 9.5 4 1 0 -8.1 -35.1A10.2 9.5 4 1 0 12.3 -33.8Z"/>
<path opacity="0.58" d="M2.7 -95.7A10.2 2.9 176 1 0 -17.6 -94.2A10.2 2.9 176 1 0 2.7 -95.7Z"/>
<path opacity="0.59" d="M3.3 26.2A10.2 9.9 150 1 0 20.9 16.1A10.2 9.9 150 1 0 3.3 26.2Z"/>
<path opacity="0.47" d="M18.0 -63.8A10.2 7.7 7 1 0 -2.2 -66.2A10.2 7.7 7 1 0 18.0 -63.8Z"/>
<path opacity="0.45" d="M22.4 -11.1A10.2 9.9 40 1 0 6.7 -24.1A10.2 9.9 40 1 0 22.4 -11.1Z"/>
<path opacity="0.56" d="M12.1 -86.8A10.2 4.9 1 1 0 -8.2 -87.3A10.2 4.9 1 1 0 12.1 -86.8Z"/>
<path opacity="0.72" d="M7.7 46.7A10.2 9.0 158 1 0 26.6 39.1A10.2 9.0 158 1 0 7.7 46.7Z"/>
<path opacity="0.45" d="M25.8 -41.9A10.2 8.9 20 1 0 6.6 -48.8A10.2 8.9 20 1 0 25.8 -41.9Z"/>
<path opacity="0.62" d="M8.3 -99.0A10.2 1.2 179 1 0 -12.0 -98.6A10.2 1.2 179 1 0 8.3 -99.0Z"/>
<path opacity="0.55" d="M18.2 14.6A10.2 10.0 103 1 0 22.7 -5.2A10.2 10.0 103 1 0 18.2 14.6Z"/>
<path opacity="0.56" d="M26.5 -74.5A10.2 6.3 12 1 0 6.5 -78.8A10.2 6.3 12 1 0 26.5 -74.5Z"/>
<path opacity="0.53" d="M36.2 -19.3A10.2 9.3 48 1 0 22.4 -34.4A10.2 9.3 48 1 0 36.2 -19.3Z"/>
<path opacity="0.63" d="M23.5 -91.8A10.2 3.3 8 1 0 3.4 -94.7A10.2 3.3 8 1 0 23.5 -91.8Z"/>
<path opacity="0.71" d="M24.7 35.6A10.2 9.2 132 1 0 38.2 20.4A10.2 9.2 132 1 0 24.7 35.6Z"/>
<path opacity="0.55" d="M36.1 -53.3A10.2 7.8 25 1 0 17.7 -61.9A10.2 7.8 25 1 0 36.1 -53.3Z"/>
<path opacity="0.61" d="M37.3 5.2A10.2 9.5 82 1 0 34.6 -15.0A10.2 9.5 82 1 0 37.3 5.2Z"/>
<path opacity="0.64" d="M35.6 -81.2A10.2 4.7 17 1 0 16.1 -87.2A10.2 4.7 17 1 0 35.6 -81.2Z"/>
<path opacity="0.83" d="M30.6 52.9A10.2 8.1 140 1 0 46.3 39.9A10.2 8.1 140 1 0 30.6 52.9Z"/>
<path opacity="0.60" d="M46.6 -32.5A10.2 8.4 45 1 0 32.1 -46.8A10.2 8.4 45 1 0 46.6 -32.5Z"/>
<path opacity="0.69" d="M35.7 -91.8A10.2 1.8 15 1 0 16.0 -97.1A10.2 1.8 15 1 0 35.7 -91.8Z"/>
<path opacity="0.73" d="M41.6 25.6A10.2 8.9 110 1 0 48.4 6.4A10.2 8.9 110 1 0 41.6 25.6Z"/>
<path opacity="0.64" d="M45.1 -63.8A10.2 6.4 28 1 0 27.1 -73.3A10.2 6.4 28 1 0 45.1 -63.8Z"/>
<path opacity="0.66" d="M51.8 -9.2A10.2 8.7 69 1 0 44.4 -28.2A10.2 8.7 69 1 0 51.8 -9.2Z"/>
<path opacity="0.71" d="M47.7 -81.9A10.2 3.3 24 1 0 29.1 -90.2A10.2 3.3 24 1 0 47.7 -81.9Z"/>
<path opacity="0.84" d="M48.5 41.5A10.2 7.9 121 1 0 59.1 24.1A10.2 7.9 121 1 0 48.5 41.5Z"/>
<path opacity="0.66" d="M54.8 -45.0A10.2 7.2 42 1 0 39.7 -58.7A10.2 7.2 42 1 0 54.8 -45.0Z"/>
<path opacity="0.76" d="M56.2 13.7A10.2 8.3 94 1 0 57.5 -6.6A10.2 8.3 94 1 0 56.2 13.7Z"/>
<path opacity="0.72" d="M56.2 -67.9A10.2 4.8 33 1 0 39.1 -79.0A10.2 4.8 33 1 0 56.2 -67.9Z"/>
<path opacity="0.93" d="M52.3 55.7A10.2 6.6 129 1 0 65.1 39.9A10.2 6.6 129 1 0 52.3 55.7Z"/>
<path opacity="0.73" d="M64.3 -23.4A10.2 7.5 61 1 0 54.6 -41.3A10.2 7.5 61 1 0 64.3 -23.4Z"/>
<path opacity="0.78" d="M61.1 -76.9A10.2 1.9 33 1 0 43.9 -87.8A10.2 1.9 33 1 0 61.1 -76.9Z"/>
<path opacity="0.86" d="M64.7 27.7A10.2 7.3 105 1 0 69.9 8.1A10.2 7.3 105 1 0 64.7 27.7Z"/>
<path opacity="0.75" d="M66.3 -48.5A10.2 5.8 47 1 0 52.3 -63.3A10.2 5.8 47 1 0 66.3 -48.5Z"/>
<path opacity="0.78" d="M66.7 -1.7A10.2 7.6 80 1 0 63.1 -21.8A10.2 7.6 80 1 0 66.7 -1.7Z"/>
<path opacity="0.80" d="M69.8 -64.4A10.2 3.2 41 1 0 54.4 -77.8A10.2 3.2 41 1 0 69.8 -64.4Z"/>
<path opacity="0.94" d="M68.0 42.8A10.2 6.1 115 1 0 76.5 24.3A10.2 6.1 115 1 0 68.0 42.8Z"/>
<path opacity="0.81" d="M76.6 -30.4A10.2 5.8 61 1 0 66.8 -48.2A10.2 5.8 61 1 0 76.6 -30.4Z"/>
<path opacity="0.88" d="M76.9 12.7A10.2 6.4 92 1 0 77.5 -7.7A10.2 6.4 92 1 0 76.9 12.7Z"/>
<path opacity="0.82" d="M76.7 -49.4A10.2 4.2 51 1 0 63.8 -65.2A10.2 4.2 51 1 0 76.7 -49.4Z"/>
<path opacity="1.00" d="M71.3 54.0A10.2 4.6 121 1 0 81.7 36.5A10.2 4.6 121 1 0 71.3 54.0Z"/>
<path opacity="0.85" d="M79.2 -10.7A10.2 6.1 75 1 0 74.0 -30.4A10.2 6.1 75 1 0 79.2 -10.7Z"/>
<path opacity="0.85" d="M78.9 -60.0A10.2 1.3 47 1 0 65.0 -74.9A10.2 1.3 47 1 0 78.9 -60.0Z"/>
<path opacity="0.97" d="M81.4 29.8A10.2 5.1 103 1 0 86.1 10.0A10.2 5.1 103 1 0 81.4 29.8Z"/>
<path opacity="0.88" d="M86.7 -30.5A10.2 4.0 64 1 0 77.8 -48.8A10.2 4.0 64 1 0 86.7 -30.5Z"/>
<path opacity="1.00" d="M76.5 58.5A10.2 2.8 121 1 0 87.1 41.1A10.2 2.8 121 1 0 76.5 58.5Z"/>
<path opacity="0.93" d="M87.8 3.5A10.2 4.9 86 1 0 86.3 -16.8A10.2 4.9 86 1 0 87.8 3.5Z"/>
<path opacity="0.89" d="M86.6 -44.5A10.2 2.3 57 1 0 75.4 -61.6A10.2 2.3 57 1 0 86.6 -44.5Z"/>
<path opacity="1.00" d="M85.7 39.5A10.2 3.4 109 1 0 92.2 20.2A10.2 3.4 109 1 0 85.7 39.5Z"/>
<path opacity="0.94" d="M92.6 -13.0A10.2 3.6 76 1 0 87.6 -32.8A10.2 3.6 76 1 0 92.6 -13.0Z"/>
<path opacity="1.00" d="M92.3 18.8A10.2 3.4 95 1 0 94.2 -1.5A10.2 3.4 95 1 0 92.3 18.8Z"/>
<path opacity="0.94" d="M94.6 -27.4A10.2 1.8 68 1 0 86.9 -46.2A10.2 1.8 68 1 0 94.6 -27.4Z"/>
<path opacity="1.00" d="M89.1 43.1A10.2 1.4 110 1 0 96.1 24.0A10.2 1.4 110 1 0 89.1 43.1Z"/>
<path opacity="0.99" d="M97.2 1.7A10.2 2.4 85 1 0 95.4 -18.6A10.2 2.4 85 1 0 97.2 1.7Z"/>
<path opacity="1.00" d="M96.2 23.6A10.2 1.4 98 1 0 99.0 3.5A10.2 1.4 98 1 0 96.2 23.6Z"/>
</g><circle r="100" fill="url(#rim)"/></g>
<rect x="500.7" y="535.4" width="132.8" height="47.1" fill="#6a9ab0"/>
<rect x="646.6" y="535.4" width="132.8" height="47.1" fill="#6a9ab0"/>
<rect x="792.0" y="535.4" width="132.8" height="47.1" fill="#6a9ab0"/>
<rect x="937.1" y="535.4" width="132.6" height="47.1" fill="#6a9ab0"/>
<rect x="1083.2" y="535.4" width="132.6" height="47.1" fill="#6a9ab0"/>
<rect x="1230.0" y="535.4" width="132.7" height="47.1" fill="#cd878a"/>
<rect x="1376.0" y="535.4" width="132.4" height="47.1" fill="#6a9ab0"/>
<rect x="500.7" y="589.2" width="132.8" height="47.3" fill="#6a9ab0"/>
<rect x="646.6" y="589.2" width="132.8" height="47.3" fill="#6a9ab0"/>
<rect x="792.0" y="589.2" width="132.8" height="47.3" fill="#6a9ab0"/>
<rect x="937.1" y="589.2" width="132.6" height="47.3" fill="#6a9ab0"/>
<rect x="1083.2" y="589.2" width="132.6" height="47.3" fill="#6a9ab0"/>
<rect x="1230.0" y="589.2" width="132.7" height="47.3" fill="#cd878a"/>
<rect x="1376.0" y="589.2" width="132.4" height="47.3" fill="#6a9ab0"/>
<rect x="500.2" y="643.9" width="132.8" height="47.1" fill="#6a9ab0"/>
<rect x="646.1" y="643.9" width="132.8" height="47.1" fill="#6a9ab0"/>
<rect x="792.0" y="643.9" width="132.8" height="47.1" fill="#6a9ab0"/>
<rect x="937.1" y="643.9" width="132.6" height="47.1" fill="#6a9ab0"/>
<rect x="1083.2" y="643.9" width="132.6" height="47.1" fill="#6a9ab0"/>
<rect x="1230.0" y="643.9" width="132.7" height="47.1" fill="#cd878a"/>
<rect x="1376.0" y="643.9" width="132.4" height="47.1" fill="#6a9ab0"/>
<rect x="500.7" y="697.9" width="132.8" height="47.0" fill="#6a9ab0"/>
<rect x="646.0" y="697.9" width="132.8" height="47.0" fill="#6a9ab0"/>
<rect x="792.0" y="697.9" width="132.8" height="47.0" fill="#6a9ab0"/>
<rect x="937.1" y="697.9" width="132.6" height="47.0" fill="#6a9ab0"/>
<rect x="1083.2" y="697.9" width="132.6" height="47.0" fill="#6a9ab0"/>
<rect x="1230.0" y="697.9" width="132.7" height="47.0" fill="#cd878a"/>
<rect x="1376.0" y="697.9" width="132.4" height="47.0" fill="#6a9ab0"/>
<rect x="500.7" y="752.6" width="132.8" height="47.1" fill="#6a9ab0"/>
<rect x="646.6" y="753.1" width="132.8" height="47.1" fill="#6a9ab0"/>
<rect x="792.0" y="752.6" width="132.8" height="47.1" fill="#6a9ab0"/>
<rect x="937.1" y="752.6" width="132.6" height="47.1" fill="#6a9ab0"/>
<rect x="1083.2" y="752.6" width="132.6" height="47.1" fill="#6a9ab0"/>
<rect x="1230.0" y="752.6" width="132.7" height="47.1" fill="#cd878a"/>
<rect x="1376.0" y="752.6" width="132.4" height="47.1" fill="#6a9ab0"/>
<rect x="500.7" y="806.5" width="132.8" height="46.8" fill="#6a9ab0"/>
<rect x="646.0" y="806.5" width="132.8" height="46.8" fill="#cd878a"/>
<rect x="792.0" y="806.5" width="132.8" height="46.8" fill="#cd878a"/>
<rect x="937.1" y="806.5" width="132.6" height="46.8" fill="#cd878a"/>
<rect x="1083.2" y="806.5" width="132.6" height="46.8" fill="#6a9ab0"/>
<rect x="1230.0" y="806.5" width="132.7" height="46.8" fill="#cd878a"/>
<rect x="500.7" y="860.7" width="132.8" height="47.2" fill="#6a9ab0"/>
<rect x="646.0" y="860.7" width="132.8" height="47.2" fill="#cd878a"/>
<rect x="792.0" y="860.7" width="132.8" height="47.2" fill="#cd878a"/>
<rect x="937.1" y="860.7" width="132.6" height="47.2" fill="#cd878a"/>
<rect x="1083.2" y="860.7" width="132.6" height="47.2" fill="#6a9ab0"/>
<rect x="1230.0" y="860.7" width="132.7" height="47.2" fill="#cd878a"/>
<rect x="500.7" y="914.9" width="132.8" height="47.2" fill="#6a9ab0"/>
<rect x="646.0" y="914.9" width="132.8" height="47.2" fill="#cd878a"/>
<rect x="792.0" y="914.9" width="132.8" height="47.2" fill="#cd878a"/>
<rect x="937.1" y="914.9" width="132.6" height="47.2" fill="#cd878a"/>
<rect x="1083.2" y="914.9" width="132.6" height="47.2" fill="#6a9ab0"/>
<rect x="1230.0" y="914.9" width="132.7" height="47.2" fill="#cd878a"/>
<rect x="500.2" y="971.5" width="132.8" height="47.1" fill="#6a9ab0"/>
<rect x="646.0" y="971.5" width="132.8" height="47.1" fill="#cd878a"/>
<rect x="792.0" y="971.5" width="132.8" height="47.1" fill="#cd878a"/>
<rect x="937.1" y="971.5" width="132.6" height="47.1" fill="#cd878a"/>
<rect x="1083.2" y="971.5" width="132.6" height="47.1" fill="#6a9ab0"/>
<rect x="1230.0" y="971.5" width="132.7" height="47.1" fill="#cd878a"/>
<rect x="792.0" y="1029.4" width="132.8" height="46.9" fill="#6a9ab0"/>
<rect x="937.1" y="1029.4" width="132.6" height="46.9" fill="#6a9ab0"/>
<rect x="1083.2" y="1029.4" width="132.6" height="46.9" fill="#6a9ab0"/>
<rect x="1230.0" y="1029.4" width="132.7" height="46.9" fill="#cd878a"/>
<rect x="937.1" y="1086.2" width="132.6" height="46.4" fill="#6a9ab0"/>
</svg><div id="lg1">Pitch.</div><div class="abs" style="left:827.5px;top:197.5px;width:12px;height:9.5px;background:#f0efeb"></div><div id="lg2" aria-label="Wharf"><span id="lgw">W</span><span id="lgh">harf</span></div>
<div id="title">SHUFFLE BOOKINGS</div>
<div class="t dy" style="left:567.3px;top:474.5px">MONDAY</div>
<div class="t dy" style="left:713.1px;top:474.5px">TUESDAY</div>
<div class="t dy" style="left:858.9px;top:474.5px">WEDNESDAY</div>
<div class="t dy" style="left:1004.5px;top:474.5px">THURSDAY</div>
<div class="t dy" style="left:1150.0px;top:474.5px">FRIDAY</div>
<div class="t dy" style="left:1295.5px;top:474.5px">SATURDAY</div>
<div class="t dy" style="left:1441.0px;top:474.5px">SUNDAY</div>
<div class="t tm" style="left:449.5px;top:556.2px">12:00</div>
<div class="t tm" style="left:449.5px;top:609.9px">13:00</div>
<div class="t tm" style="left:449.5px;top:664.6px">14:00</div>
<div class="t tm" style="left:449.5px;top:719.2px">15:00</div>
<div class="t tm" style="left:449.5px;top:773.9px">16:00</div>
<div class="t tm" style="left:449.5px;top:827.5px">17:00</div>
<div class="t tm" style="left:449.5px;top:882.3px">18:00</div>
<div class="t tm" style="left:449.5px;top:936.3px">19:00</div>
<div class="t tm" style="left:449.5px;top:991.9px">20:00</div>
<div class="t tm" style="left:449.5px;top:1049.7px">21:00</div>
<div class="t tm" style="left:449.5px;top:1108.2px">22:00</div>
<div class="t c" style="left:568.6px;top:556.9px">FREE</div>
<div class="t c" style="left:714.6px;top:555.7px">FREE</div>
<div class="t c" style="left:859.5px;top:556.9px">FREE</div>
<div class="t c" style="left:1005.7px;top:556.9px">FREE</div>
<div class="t c" style="left:1151.1px;top:555.9px">FREE</div>
<div class="t c" style="left:1297.7px;top:556.9px">£20</div>
<div class="t c" style="left:1446.3px;top:555.9px">FREE</div>
<div class="t c" style="left:567.3px;top:611.3px">FREE</div>
<div class="t c" style="left:714.6px;top:609.4px">FREE</div>
<div class="t c" style="left:860.3px;top:611.6px">FREE</div>
<div class="t c" style="left:1005.7px;top:609.8px">FREE</div>
<div class="t c" style="left:1151.1px;top:609.8px">FREE</div>
<div class="t c" style="left:1298.6px;top:611.2px">£20</div>
<div class="t c" style="left:1446.3px;top:609.8px">FREE</div>
<div class="t c" style="left:568.2px;top:666.0px">FREE</div>
<div class="t c" style="left:714.6px;top:666.0px">FREE</div>
<div class="t c" style="left:859.6px;top:666.0px">FREE</div>
<div class="t c" style="left:1004.6px;top:666.0px">FREE</div>
<div class="t c" style="left:1150.0px;top:666.0px">FREE</div>
<div class="t c" style="left:1298.6px;top:664.9px">£20</div>
<div class="t c" style="left:1446.3px;top:664.6px">FREE</div>
<div class="t c" style="left:569.7px;top:719.0px">FREE</div>
<div class="t c" style="left:714.6px;top:719.0px">FREE</div>
<div class="t c" style="left:859.6px;top:717.9px">FREE</div>
<div class="t c" style="left:1005.7px;top:719.5px">FREE</div>
<div class="t c" style="left:1151.1px;top:717.9px">FREE</div>
<div class="t c" style="left:1298.6px;top:718.8px">£20</div>
<div class="t c" style="left:1446.3px;top:717.9px">FREE</div>
<div class="t c" style="left:569.7px;top:773.6px">FREE</div>
<div class="t c" style="left:714.6px;top:773.6px">FREE</div>
<div class="t c" style="left:859.6px;top:773.6px">FREE</div>
<div class="t c" style="left:1004.6px;top:773.6px">FREE</div>
<div class="t c" style="left:1151.1px;top:773.6px">FREE</div>
<div class="t c" style="left:1298.6px;top:774.2px">£20</div>
<div class="t c" style="left:1446.3px;top:773.6px">FREE</div>
<div class="t c" style="left:570.7px;top:828.4px">FREE</div>
<div class="t c" style="left:714.2px;top:827.0px">£20</div>
<div class="t c" style="left:860.5px;top:827.0px">£20</div>
<div class="t c" style="left:1005.1px;top:827.0px">£20</div>
<div class="t c" style="left:1150.0px;top:828.4px">FREE</div>
<div class="t c" style="left:1298.6px;top:828.9px">£20</div>
<div class="t c" style="left:569.7px;top:881.5px">FREE</div>
<div class="t c" style="left:714.2px;top:882.0px">£20</div>
<div class="t c" style="left:860.5px;top:882.0px">£20</div>
<div class="t c" style="left:1005.1px;top:882.0px">£20</div>
<div class="t c" style="left:1151.3px;top:882.2px">FREE</div>
<div class="t c" style="left:1298.6px;top:882.0px">£20</div>
<div class="t c" style="left:570.7px;top:935.2px">FREE</div>
<div class="t c" style="left:714.2px;top:935.6px">£20</div>
<div class="t c" style="left:860.5px;top:935.6px">£20</div>
<div class="t c" style="left:1005.1px;top:935.6px">£20</div>
<div class="t c" style="left:1150.0px;top:936.8px">FREE</div>
<div class="t c" style="left:1298.6px;top:935.6px">£20</div>
<div class="t c" style="left:569.7px;top:992.6px">FREE</div>
<div class="t c" style="left:714.2px;top:992.2px">£20</div>
<div class="t c" style="left:860.5px;top:992.2px">£20</div>
<div class="t c" style="left:1005.1px;top:992.2px">£20</div>
<div class="t c" style="left:1151.3px;top:993.8px">FREE</div>
<div class="t c" style="left:1298.6px;top:992.2px">£20</div>
<div class="t c" style="left:861.0px;top:1049.8px">FREE</div>
<div class="t c" style="left:1004.6px;top:1049.8px">FREE</div>
<div class="t c" style="left:1149.9px;top:1049.8px">FREE</div>
<div class="t c" style="left:1298.5px;top:1050.4px">£20</div>
<div class="t c" style="left:1004.0px;top:1109.6px">FREE</div>
</body></html>
